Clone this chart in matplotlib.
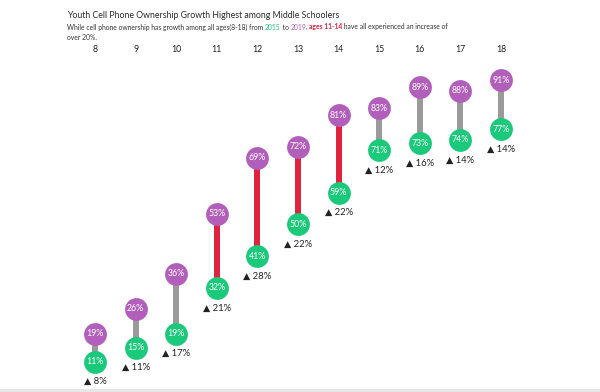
import matplotlib
matplotlib.use("Agg")
import matplotlib.pyplot as plt
from matplotlib.patches import Rectangle

plt.rcParams['font.family'] = ['Lato', 'DejaVu Sans']

ages = [8, 9, 10, 11, 12, 13, 14, 15, 16, 17, 18]
own_2015 = [11, 15, 19, 32, 41, 50, 59, 71, 73, 74, 77]
own_2019 = [19, 26, 36, 53, 69, 72, 81, 83, 89, 88, 91]
growth = [8, 11, 17, 21, 28, 22, 22, 12, 16, 14, 14]
highlight_ages = [11, 12, 13, 14]

title = "Youth Cell Phone Ownership Growth Highest among Middle Schoolers"

GREEN = "#1ac97a"
PURPLE = "#b25fbb"
RED = "#e0223f"
GRAY = "#9a9a9a"
TEXT = "#333333"

fig = plt.figure(figsize=(6, 3.92), dpi=100)
fig.patch.set_facecolor("white")
ax = fig.add_axes([0, 0, 1, 1])
ax.set_xlim(5.66, 20.44)
ax.set_ylim(2.39, 113.75)
ax.axis("off")

for a, lo, hi in zip(ages, own_2015, own_2019):
    c = RED if a in highlight_ages else GRAY
    ax.plot([a, a], [lo, hi], color=c, lw=4.3, solid_capstyle="butt", zorder=1)

ax.scatter(ages, own_2015, s=270, color=GREEN, zorder=2, linewidths=0)
ax.scatter(ages, own_2019, s=270, color=PURPLE, zorder=2, linewidths=0)

for a, lo, hi, g in zip(ages, own_2015, own_2019, growth):
    ax.text(a, lo, f"{lo}%", color="white", ha="center", va="center", fontsize=6.3, zorder=3)
    ax.text(a, hi, f"{hi}%", color="white", ha="center", va="center", fontsize=6.3, zorder=3)
    ax.annotate(f"\u25B2 {g}%", (a, lo), xytext=(0, -14.5), textcoords="offset points",
                ha="center", va="center", fontsize=6.8, color="#222222", zorder=3)

# age header
for a in ages:
    ax.text(a, 1 - 49 / 392, str(a), transform=ax.get_xaxis_transform(),
            ha="center", va="center", fontsize=6.3, color="#222222")

# title
fig.text(67 / 600, 1 - 16 / 392, title, fontsize=6.3, color="#2a2a2a", ha="left", va="center")

# subtitle with coloured pieces
pieces = [
    ("While cell phone ownership has growth among all ages(8-18) from ", TEXT, "normal"),
    ("2015", GREEN, "normal"),
    (" to ", TEXT, "normal"),
    ("2019", PURPLE, "normal"),
    (", ", TEXT, "normal"),
    ("ages 11-14", RED, "bold"),
    (" have all experienced an increase of", TEXT, "normal"),
]
renderer = fig.canvas.get_renderer()
x = 67
y1 = 1 - 27 / 392
for s, col, w in pieces:
    t = fig.text(x / 600, y1, s, fontsize=4.85, color=col, fontweight=w, ha="left", va="center")
    bb = t.get_window_extent(renderer)
    x += bb.width
fig.text(67 / 600, 1 - 37 / 392, "over 20%.", fontsize=4.85, color=TEXT, ha="left", va="center")

fig.patches.append(Rectangle((0, 0), 1, 3 / 392, transform=fig.transFigure,
                             facecolor="#e6e6e6", edgecolor="none"))

fig.savefig("out.png", dpi=100)
